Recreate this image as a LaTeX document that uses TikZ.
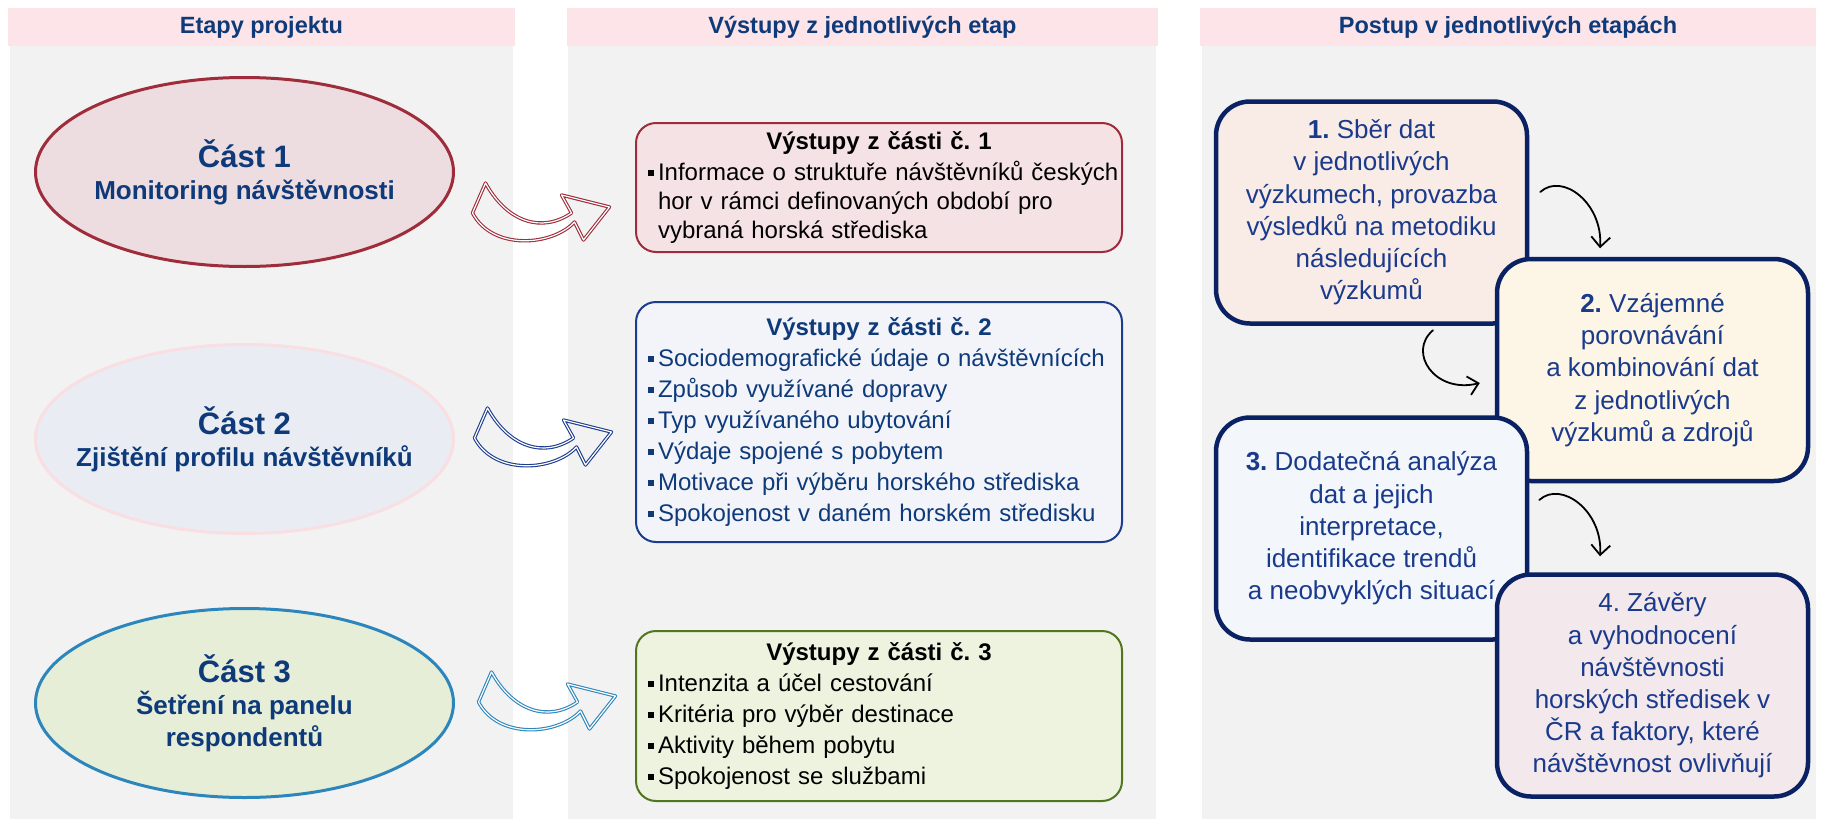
\documentclass[tikz,border=0pt]{standalone}
\usepackage{fontspec}
\setmainfont{Liberation Sans}
\usetikzlibrary{shapes.geometric,arrows.meta,calc}
\frenchspacing

\definecolor{hdrpink}{RGB}{252,228,232}
\definecolor{bodygrey}{RGB}{242,242,242}
\definecolor{navy}{RGB}{14,58,122}
\definecolor{wine}{RGB}{158,44,58}
\definecolor{skyline}{RGB}{44,134,188}
\definecolor{paleline}{RGB}{249,222,226}
\definecolor{eonefill}{RGB}{237,221,224}
\definecolor{etwofill}{RGB}{233,236,242}
\definecolor{ethreefill}{RGB}{230,238,216}
\definecolor{oonefill}{RGB}{245,226,229}
\definecolor{otwofill}{RGB}{242,244,250}
\definecolor{othreefill}{RGB}{238,243,224}
\definecolor{otwoline}{RGB}{28,60,142}
\definecolor{othreeline}{RGB}{82,118,32}
\definecolor{stepline}{RGB}{10,34,100}
\definecolor{steptext}{RGB}{26,58,140}
\definecolor{sonefill}{RGB}{249,235,230}
\definecolor{stwofill}{RGB}{253,246,230}
\definecolor{sthreefill}{RGB}{243,247,252}
\definecolor{sfourfill}{RGB}{243,232,236}

\newcommand{\sqb}{\hspace*{11pt}\rule[4pt]{6pt}{6pt}\hspace{4pt}}

\tikzset{
  hdr/.style={fill=hdrpink, minimum height=38pt, inner sep=0pt, text=navy,
    font=\bfseries\fontsize{23.5}{28}\selectfont},
  stage/.style={ellipse, line width=3pt, minimum width=418pt, minimum height=189pt,
    text=navy, align=center, inner xsep=-40pt, inner ysep=-25pt,
    font=\bfseries\fontsize{26}{32}\selectfont},
  outbox/.style={rounded corners=20pt, line width=2pt, minimum width=486pt,
    text width=484pt, align=left, inner sep=0pt, font=\fontsize{24}{29}\selectfont},
  stepbox/.style={rounded corners=34pt, line width=4.5pt, draw=stepline, text=steptext,
    minimum width=311pt, minimum height=222pt, align=center, inner sep=0pt,
    font=\fontsize{26}{32.2}\selectfont},
  swoosh/.pic={
    \draw[pic actions, line width=1.1pt, double=white, double distance=1.2pt, line join=round]
      (0,0) -- (13,30) .. controls (35,-10) and (70,-20) .. (99,0)
      -- (89,18) -- (137,6) -- (111,-27) -- (102,-9)
      .. controls (80,-33) and (20,-38) .. (0,0) -- cycle;
  },
  flow/.style={line width=1.8pt, line cap=round, -{Straight Barb[length=10pt,width=19pt]}}
}

\begin{document}
\begin{tikzpicture}[x=1pt, y=1pt]
  \useasboundingbox[fill=white] (0,0) rectangle (1822,-819);

  % column backgrounds
  \fill[bodygrey] (10,-46) rectangle (513,-819);
  \fill[bodygrey] (568,-46) rectangle (1156,-819);
  \fill[bodygrey] (1202,-46) rectangle (1816,-819);

  % headers
  \node[hdr, minimum width=507pt] (h1) at (261.5,-27) {Etapy projektu};
  \node[hdr, minimum width=591pt] (h2) at (862.5,-27) {Výstupy z jednotlivých etap};
  \node[hdr, minimum width=616pt] (h3) at (1508,-27) {Postup v jednotlivých etapách};

  % stages
  \node[stage, draw=wine, fill=eonefill] (e1) at (244.5,-172)
    {{\fontsize{31}{35}\selectfont Část 1}\\Monitoring návštěvnosti};
  \node[stage, draw=paleline, fill=etwofill] (e2) at (244.5,-439)
    {{\fontsize{31}{35}\selectfont Část 2}\\Zjištění profilu návštěvníků};
  \node[stage, draw=skyline, fill=ethreefill] (e3) at (244.5,-703)
    {{\fontsize{31}{35}\selectfont Část 3}\\Šetření na panelu\\respondentů};

  % outputs
  \node[outbox, draw=wine, fill=oonefill, minimum height=129pt] (o1) at (879,-187.5)
    {\makebox[484pt]{\bfseries Výstupy z části č. 1}\\[1.5pt]
     \sqb Informace o struktuře návštěvníků českých\\
     \hspace*{21pt}hor v rámci definovaných období pro\\
     \hspace*{21pt}vybraná horská střediska};
  \node[outbox, draw=otwoline, fill=otwofill, text=navy, minimum height=240pt,
        font=\fontsize{24}{31}\selectfont] (o2) at (879,-422)
    {\makebox[484pt]{\bfseries Výstupy z části č. 2}\\
     \sqb Sociodemografické údaje o návštěvnících\\
     \sqb Způsob využívané dopravy\\
     \sqb Typ využívaného ubytování\\
     \sqb Výdaje spojené s pobytem\\
     \sqb Motivace při výběru horského střediska\\
     \sqb Spokojenost v daném horském středisku};
  \node[outbox, draw=othreeline, fill=othreefill, minimum height=170pt,
        font=\fontsize{24}{31}\selectfont] (o3) at (879,-716)
    {\makebox[484pt]{\bfseries Výstupy z části č. 3}\\
     \sqb Intenzita a účel cestování\\
     \sqb Kritéria pro výběr destinace\\
     \sqb Aktivity během pobytu\\
     \sqb Spokojenost se službami};

  % block arrows
  \pic[draw=wine] at ([xshift=17.5pt,yshift=-41pt]e1.east) {swoosh};
  \pic[draw=otwoline] at ([xshift=19.5pt,yshift=1pt]e2.east) {swoosh};
  \pic[draw=skyline] at ([xshift=23.5pt,yshift=1pt]e3.east) {swoosh};

  % steps
  \node[stepbox, fill=sonefill] (s1) at (1371.5,-212.5)
    {\textbf{1.} Sběr dat\\v jednotlivých\\výzkumech, provazba\\výsledků na metodiku\\následujících\\výzkumů};
  \node[stepbox, fill=stwofill] (s2) at (1652.5,-370)
    {\textbf{2.} Vzájemné\\porovnávání\\a kombinování dat\\z jednotlivých\\výzkumů a zdrojů};
  \node[stepbox, fill=sthreefill] (s3) at (1371.5,-528.5)
    {\textbf{3.} Dodatečná analýza\\dat a jejich\\interpretace,\\identifikace trendů\\a neobvyklých situací};
  \node[stepbox, fill=sfourfill] (s4) at (1652.5,-685.5)
    {4. Závěry\\a vyhodnocení\\návštěvnosti\\horských středisek v\\ČR a faktory, které\\návštěvnost ovlivňují};

  % step connectors
  \coordinate (f1a) at ([xshift=11pt,yshift=20.5pt]s1.east);
  \coordinate (f1b) at ([xshift=-52.5pt,yshift=8.5pt]s2.north);
  \coordinate (f2a) at ([xshift=61.5pt,yshift=-4.5pt]s1.south);
  \coordinate (f2b) at ([xshift=-15pt,yshift=-13pt]s2.west);
  \coordinate (f3a) at ([xshift=10pt,yshift=28.5pt]s3.east);
  \coordinate (f3b) at ([xshift=-52.5pt,yshift=16pt]s4.north);
  \draw[flow] (f1a) .. controls ($(f1a)+(22,20)$) and ($(f1b)+(3,45)$) .. (f1b);
  \draw[flow] (f2a) .. controls ($(f2a)+(-26,-22)$) and ($(f2b)+(-45,-11)$) .. (f2b);
  \draw[flow] (f3a) .. controls ($(f3a)+(22,20)$) and ($(f3b)+(3,45)$) .. (f3b);
\end{tikzpicture}
\end{document}
